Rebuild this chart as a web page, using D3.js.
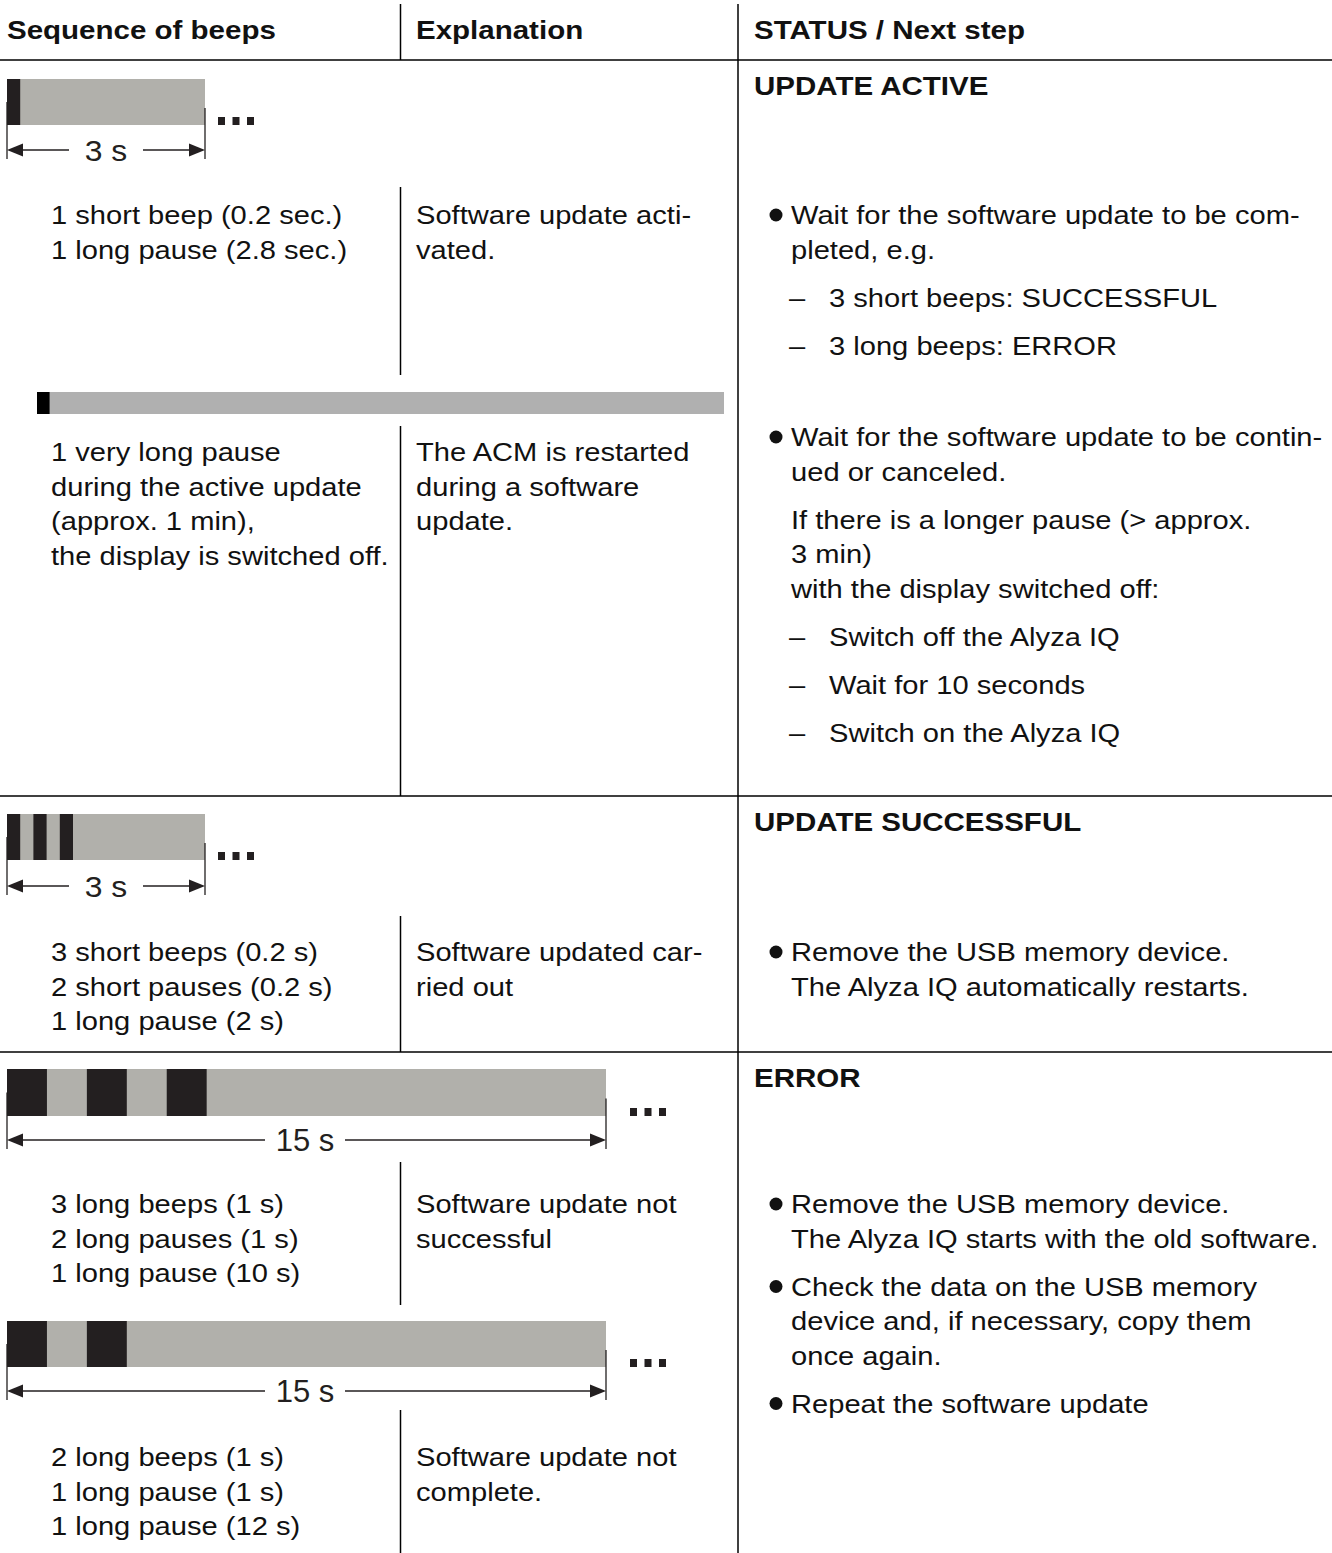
<!DOCTYPE html>
<html>
<head>
<meta charset="utf-8">
<title>Sequence of beeps</title>
<script src="https://cdn.jsdelivr.net/npm/d3@7"></script>
<style>
  body { margin: 0; background: #fff; }
  text { font-family: "Liberation Sans", Arial, sans-serif; fill: #111; }
  .head { font-size: 26px; font-weight: bold; }
  .body { font-size: 26px; }
  .dim { font-size: 29px; fill: #231f20; }
  .dim.big { font-size: 31px; }
  .rule { stroke: #000; stroke-width: 1.5; }
</style>
</head>
<body>
<script>
// beep bars: [start, end] of each beep in seconds, plus total length shown
const activeBeeps = [[0, 0.2]];
const activeTotal = 3;
const restartBeeps = [[0, 1.1]];
const restartTotal = 60;
const successBeeps = [[0, 0.2], [0.4, 0.6], [0.8, 1.0]];
const successTotal = 3;
const errorBeeps = [[0, 1], [2, 3], [4, 5]];
const errorTotal = 15;
const incompleteBeeps = [[0, 1], [2, 3]];
const incompleteTotal = 15;

const headers = ["Sequence of beeps", "Explanation", "STATUS / Next step"];
const statusTitles = ["UPDATE ACTIVE", "UPDATE SUCCESSFUL", "ERROR"];

const activeSeq = ["1 short beep (0.2 sec.)", "1 long pause (2.8 sec.)"];
const activeExpl = ["Software update acti-", "vated."];
const restartSeq = ["1 very long pause", "during the active update", "(approx. 1 min),", "the display is switched off."];
const restartExpl = ["The ACM is restarted", "during a software", "update."];
const successSeq = ["3 short beeps (0.2 s)", "2 short pauses (0.2 s)", "1 long pause (2 s)"];
const successExpl = ["Software updated car-", "ried out"];
const errorSeq = ["3 long beeps (1 s)", "2 long pauses (1 s)", "1 long pause (10 s)"];
const errorExpl = ["Software update not", "successful"];
const incompleteSeq = ["2 long beeps (1 s)", "1 long pause (1 s)", "1 long pause (12 s)"];
const incompleteExpl = ["Software update not", "complete."];

// status column: type b = bullet, d = dash item, p = plain paragraph
const activeSteps = [
  { type: "b", lines: ["Wait for the software update to be com-", "pleted, e.g."] },
  { type: "d", lines: ["3 short beeps: SUCCESSFUL"] },
  { type: "d", lines: ["3 long beeps: ERROR"] }
];
const restartSteps = [
  { type: "b", lines: ["Wait for the software update to be contin-", "ued or canceled."] },
  { type: "p", lines: ["If there is a longer pause (> approx.", "3 min)", "with the display switched off:"] },
  { type: "d", lines: ["Switch off the Alyza IQ"] },
  { type: "d", lines: ["Wait for 10 seconds"] },
  { type: "d", lines: ["Switch on the Alyza IQ"] }
];
const successSteps = [
  { type: "b", lines: ["Remove the USB memory device.", "The Alyza IQ automatically restarts."] }
];
const errorSteps = [
  { type: "b", lines: ["Remove the USB memory device.", "The Alyza IQ starts with the old software."] },
  { type: "b", lines: ["Check the data on the USB memory", "device and, if necessary, copy them", "once again."] },
  { type: "b", lines: ["Repeat the software update"] }
];

const W = 1332, H = 1553;
const LH = 34.5, GAP = 48;
const SX = 1.12;            // glyphs in the source are a bit wide
const col1 = 51, col2 = 416, col3 = 754;
const bulletX = 776, stepX = 791, dashTextX = 829;

const svg = d3.select("body").append("svg")
  .attr("width", W).attr("height", H);

const gLines = svg.append("g");
const gBars = svg.append("g");
const gText = svg.append("g");

const place = (x, y, s) => `translate(${x},${y}) scale(${s || SX},1)`;

// table rules
const hRules = [60, 796, 1052];
gLines.selectAll("line.h").data(hRules).enter().append("line")
  .attr("class", "rule")
  .attr("x1", 0).attr("x2", W)
  .attr("y1", d => d).attr("y2", d => d);

gLines.append("line").attr("class", "rule")
  .attr("x1", 738).attr("x2", 738).attr("y1", 4).attr("y2", H);

const midSegments = [[4, 60], [187, 375], [426, 796], [916, 1052], [1162, 1305], [1410, H]];
gLines.selectAll("line.v").data(midSegments).enter().append("line")
  .attr("class", "rule")
  .attr("x1", 400.5).attr("x2", 400.5)
  .attr("y1", d => d[0]).attr("y2", d => d[1]);

// header
gText.selectAll("text.hd").data(headers).enter().append("text")
  .attr("class", "head")
  .attr("transform", (d, i) => place([7, col2, col3][i], 39, 1.135))
  .text(d => d);

[95, 831, 1087].forEach((y, i) => {
  gText.append("text").attr("class", "head")
    .attr("transform", place(col3, y, 1.135)).text(statusTitles[i]);
});

function lines(x, y, arr) {
  gText.append("g").selectAll("text").data(arr).enter().append("text")
    .attr("class", "body")
    .attr("transform", (d, i) => place(x, y + i * LH))
    .text(d => d);
}

function steps(y, list) {
  let cy = y;
  list.forEach(s => {
    if (s.type === "b") {
      gText.append("circle").attr("cx", bulletX).attr("cy", cy - 9).attr("r", 6.5).attr("fill", "#111");
    }
    if (s.type === "d") {
      gText.append("text").attr("class", "body").attr("transform", place(stepX - 2, cy)).text("\u2013");
    }
    lines(s.type === "d" ? dashTextX : stepX, cy, s.lines);
    cy += (s.lines.length - 1) * LH + GAP;
  });
}

// beep bar with dimension arrow
function beepBar(beeps, total, x0, x1, y0, h, opts) {
  const x = d3.scaleLinear().domain([0, total]).range([x0, x1]);
  const g = gBars.append("g");
  g.append("rect")
    .attr("x", x(0)).attr("y", y0)
    .attr("width", x(total) - x(0)).attr("height", h)
    .attr("fill", opts.gray);
  g.selectAll("rect.beep").data(beeps).enter().append("rect")
    .attr("x", d => x(d[0])).attr("y", y0)
    .attr("width", d => x(d[1]) - x(d[0])).attr("height", h)
    .attr("fill", opts.black);
  if (!opts.label) return;

  const ay = y0 + h + opts.arrowGap;
  g.append("line").attr("x1", x(0)).attr("x2", x(0))
    .attr("y1", y0 + h / 2).attr("y2", ay + 9)
    .attr("stroke", "#231f20").attr("stroke-width", 1.3);
  g.append("line").attr("x1", x(total)).attr("x2", x(total))
    .attr("y1", y0 + h * 0.63).attr("y2", ay + 9)
    .attr("stroke", "#231f20").attr("stroke-width", 1.3);

  const lx = opts.labelX;
  g.append("text").attr("class", opts.big ? "dim big" : "dim")
    .attr("transform", place(lx, ay + 11, opts.labelScale))
    .attr("text-anchor", "middle").text(opts.label);
  const half = opts.labelGap;
  g.append("line").attr("x1", x(0) + 10).attr("x2", lx - half)
    .attr("y1", ay).attr("y2", ay).attr("stroke", "#231f20").attr("stroke-width", 1.5);
  g.append("line").attr("x1", lx + half).attr("x2", x(total) - 10)
    .attr("y1", ay).attr("y2", ay).attr("stroke", "#231f20").attr("stroke-width", 1.5);
  // arrowheads
  g.append("path")
    .attr("d", `M${x(0)},${ay} l16,-6.5 l0,13 z`).attr("fill", "#231f20");
  g.append("path")
    .attr("d", `M${x(total)},${ay} l-16,-6.5 l0,13 z`).attr("fill", "#231f20");

  // ellipsis dots
  const dx = x(total) + opts.dotsOffset;
  g.selectAll("rect.dot").data([0, 1, 2]).enter().append("rect")
    .attr("x", d => dx + d * 14.5).attr("y", y0 + h - 8)
    .attr("width", 7).attr("height", 8)
    .attr("fill", "#231f20");
}

const warm = { gray: "#b1b0ab", black: "#231f20" };

beepBar(activeBeeps, activeTotal, 7, 205, 79, 46,
  Object.assign({ label: "3 s", labelX: 106, labelGap: 37, arrowGap: 25, dotsOffset: 13, labelScale: 1.1 }, warm));
beepBar(restartBeeps, restartTotal, 37, 724, 392, 22, { gray: "#b0b0b0", black: "#000" });
beepBar(successBeeps, successTotal, 7, 205, 814, 46,
  Object.assign({ label: "3 s", labelX: 106, labelGap: 37, arrowGap: 26, dotsOffset: 13, labelScale: 1.1 }, warm));
beepBar(errorBeeps, errorTotal, 7, 606, 1069, 47,
  Object.assign({ label: "15 s", labelX: 305, labelGap: 40, arrowGap: 24, dotsOffset: 24, labelScale: 1.0, big: true }, warm));
beepBar(incompleteBeeps, incompleteTotal, 7, 606, 1321, 46,
  Object.assign({ label: "15 s", labelX: 305, labelGap: 40, arrowGap: 24, dotsOffset: 24, labelScale: 1.0, big: true }, warm));

// text rows
lines(col1, 224, activeSeq);
lines(col2, 224, activeExpl);
steps(224, activeSteps);

lines(col1, 461, restartSeq);
lines(col2, 461, restartExpl);
steps(446, restartSteps);

lines(col1, 961, successSeq);
lines(col2, 961, successExpl);
steps(961, successSteps);

lines(col1, 1213, errorSeq);
lines(col2, 1213, errorExpl);
steps(1213, errorSteps);

lines(col1, 1466, incompleteSeq);
lines(col2, 1466, incompleteExpl);
</script>
</body>
</html>
